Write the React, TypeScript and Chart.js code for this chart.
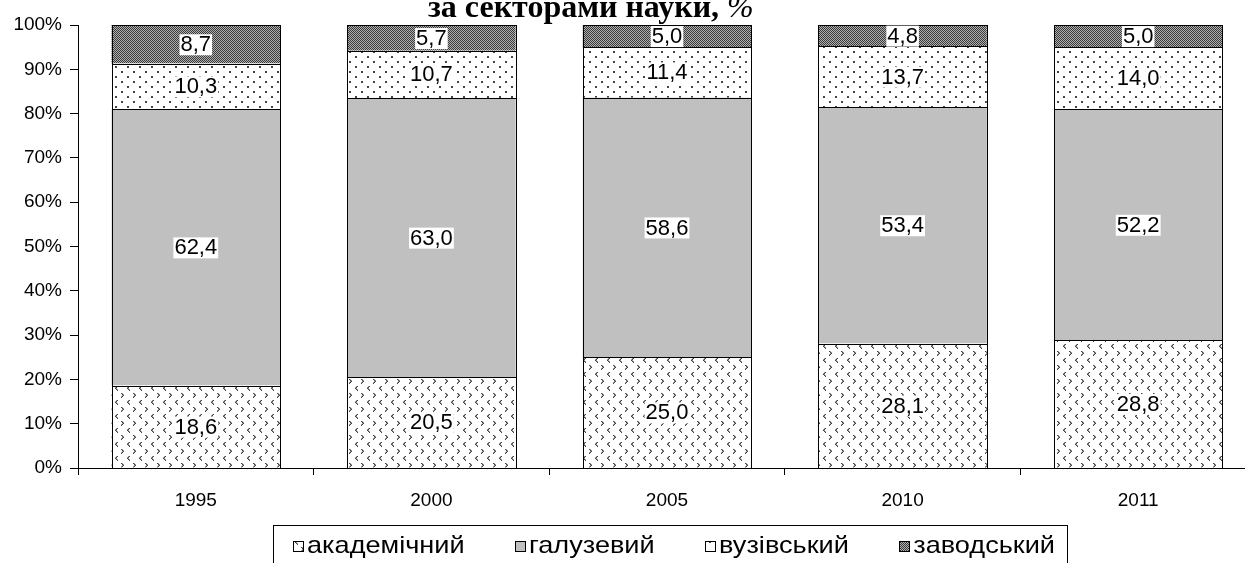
import React, { useEffect, useRef } from 'react';
import { Chart, registerables } from 'chart.js';

Chart.register(...registerables);

const categories = ['1995', '2000', '2005', '2010', '2011'];
const academic = [18.6, 20.5, 25.0, 28.1, 28.8];
const branch = [62.4, 63.0, 58.6, 53.4, 52.2];
const university = [10.3, 10.7, 11.4, 13.7, 14.0];
const factory = [8.7, 5.7, 5.0, 4.8, 5.0];
const seriesNames = ['академічний', 'галузевий', 'вузівський', 'заводський'];
const titleText = 'за секторами науки,';
const titleSuffix = ' %';

const W = 1290;
const H = 563;
const FONT = '"Liberation Sans", Arial, sans-serif';

function px(ctx: CanvasRenderingContext2D, pts: number[][], ox: number, oy: number) {
  pts.forEach(([x, y]) => ctx.fillRect(ox + x, oy + y, 1, 1));
}

function makePattern(kind: string): CanvasPattern | string {
  const c = document.createElement('canvas');
  let ctx: CanvasRenderingContext2D;
  if (kind === 'academic') {
    c.width = 12; c.height = 14;
    ctx = c.getContext('2d')!;
    ctx.fillStyle = '#fff'; ctx.fillRect(0, 0, 12, 14);
    // '>'
    ctx.fillStyle = '#444';
    px(ctx, [[0, 0], [1, 1], [2, 2], [1, 3], [0, 4]], 1, 1);
    ctx.fillStyle = '#999';
    px(ctx, [[1, 0], [2, 1], [1, 2], [0, 3]], 1, 1);
    // '<'
    ctx.fillStyle = '#444';
    px(ctx, [[2, 0], [1, 1], [0, 2], [1, 3], [2, 4]], 7, 8);
    ctx.fillStyle = '#999';
    px(ctx, [[1, 0], [0, 1], [1, 2], [2, 3]], 7, 8);
  } else if (kind === 'dots') {
    c.width = 12; c.height = 10;
    ctx = c.getContext('2d')!;
    ctx.fillStyle = '#fff'; ctx.fillRect(0, 0, 12, 10);
    ctx.fillStyle = '#444';
    ctx.fillRect(1, 1, 2, 2);
    ctx.fillRect(7, 6, 2, 2);
  } else {
    c.width = 2; c.height = 2;
    ctx = c.getContext('2d')!;
    ctx.fillStyle = '#b0b0b0'; ctx.fillRect(0, 0, 2, 2);
    ctx.fillStyle = '#3a3a3a';
    ctx.fillRect(0, 0, 1, 1); ctx.fillRect(1, 1, 1, 1);
  }
  return ctx.createPattern(c, 'repeat') || '#888';
}

const fmt = (v: number) => v.toFixed(1).replace('.', ',');

const labelsPlugin = {
  id: 'segLabels',
  afterDatasetsDraw(chart: any) {
    const ctx: CanvasRenderingContext2D = chart.ctx;
    ctx.save();
    ctx.strokeStyle = '#000';
    ctx.lineWidth = 1;
    chart.data.datasets.forEach((ds: any, di: number) => {
      const meta = chart.getDatasetMeta(di);
      meta.data.forEach((el: any) => {
        const l = Math.round(el.x - el.width / 2);
        const r = Math.round(el.x + el.width / 2);
        const t = Math.round(el.y);
        const b = Math.round(el.base);
        ctx.strokeRect(l + 0.5, t + 0.5, r - l, b - t);
      });
    });
    ctx.font = `22px ${FONT}`;
    ctx.textAlign = 'center';
    ctx.textBaseline = 'middle';
    chart.data.datasets.forEach((ds: any, di: number) => {
      const meta = chart.getDatasetMeta(di);
      meta.data.forEach((el: any, i: number) => {
        const v = ds.data[i];
        const txt = fmt(v);
        const cy = (el.y + el.base) / 2;
        const tw = ctx.measureText(txt).width;
        ctx.fillStyle = '#fff';
        ctx.fillRect(el.x - tw / 2 - 1, cy - 10, tw + 2, 21);
        ctx.fillStyle = '#000';
        ctx.fillText(txt, el.x, cy + 1);
      });
    });
    ctx.restore();
  },
};

const decorPlugin = {
  id: 'decor',
  afterDraw(chart: any) {
    const ctx: CanvasRenderingContext2D = chart.ctx;
    ctx.save();
    ctx.fillStyle = '#000';
    ctx.textBaseline = 'alphabetic';
    ctx.textAlign = 'left';
    ctx.font = `bold 32px "Liberation Serif", "Times New Roman", serif`;
    ctx.fillText(titleText, 428, 17);
    const tw = ctx.measureText(titleText).width;
    ctx.font = `italic 32px "Liberation Serif", "Times New Roman", serif`;
    ctx.fillText(titleSuffix, 428 + tw, 17);

    const boxL = 273, boxR = 1067, boxT = 525.5;
    ctx.strokeStyle = '#000';
    ctx.lineWidth = 1;
    ctx.strokeRect(boxL + 0.5, boxT, boxR - boxL, 60);
    const sx = 1.13;
    ctx.font = `24px ${FONT}`;
    const widths = seriesNames.map((n) => ctx.measureText(n).width * sx);
    const startX = 293, endX = 1055;
    const mk = 11, g1 = 3;
    const total = widths.reduce((a, b) => a + b, 0) + 4 * (mk + g1);
    const gap = (endX - startX - total) / 3;
    let x = startX;
    chart.data.datasets.forEach((ds: any, i: number) => {
      const mx = Math.round(x);
      ctx.fillStyle = ds.backgroundColor;
      ctx.fillRect(mx, 541, mk, mk);
      ctx.strokeStyle = '#000';
      ctx.strokeRect(mx + 0.5, 541.5, mk - 1, mk - 1);
      ctx.save();
      ctx.translate(x + mk + g1, 553);
      ctx.scale(sx, 1);
      ctx.fillStyle = '#000';
      ctx.textBaseline = 'alphabetic';
      ctx.fillText(seriesNames[i], 0, 0);
      ctx.restore();
      x += mk + g1 + widths[i] + gap;
    });
    ctx.restore();
  },
};

export default function App() {
  const ref = useRef<HTMLCanvasElement>(null);
  useEffect(() => {
    const canvas = ref.current!;
    const seriesData = [academic, branch, university, factory];
    const fills = [makePattern('academic'), '#C0C0C0', makePattern('dots'), makePattern('checker')];
    const chart = new Chart(canvas, {
      type: 'bar',
      data: {
        labels: categories,
        datasets: seriesData.map((d, i) => ({
          label: seriesNames[i],
          data: d,
          backgroundColor: fills[i] as any,
          borderWidth: 0,
          barPercentage: 0.715,
          categoryPercentage: 1,
        })),
      },
      options: {
        responsive: false,
        animation: false,
        devicePixelRatio: 1,
        layout: { padding: { top: 25, right: W - 1256, left: 0, bottom: 0 } },
        plugins: {
          legend: { display: false },
          title: { display: false },
          tooltip: { enabled: false },
        },
        scales: {
          x: {
            stacked: true,
            grid: { display: true, drawOnChartArea: false, tickLength: 7, color: '#000', offset: true },
            border: { color: '#000', width: 1 },
            ticks: { color: '#000', font: { family: FONT, size: 19 }, padding: 14 },
            afterFit: (s: any) => { s.height = H - 468; },
          },
          y: {
            stacked: true,
            min: 0,
            max: 100,
            grid: { display: true, drawOnChartArea: false, tickLength: 8, color: '#000' },
            border: { color: '#000', width: 1 },
            ticks: {
              stepSize: 10,
              color: '#000',
              font: { family: FONT, size: 19 },
              padding: 8,
              callback: (v: any) => `${v}%`,
            },
            afterFit: (s: any) => { s.width = 78; },
          },
        },
      },
      plugins: [labelsPlugin, decorPlugin],
    });
    return () => chart.destroy();
  }, []);
  return (
    <div style={{ position: 'fixed', left: 0, top: 0, width: W, height: H, background: '#fff' }}>
      <canvas ref={ref} width={W} height={H} style={{ display: 'block' }} />
    </div>
  );
}
